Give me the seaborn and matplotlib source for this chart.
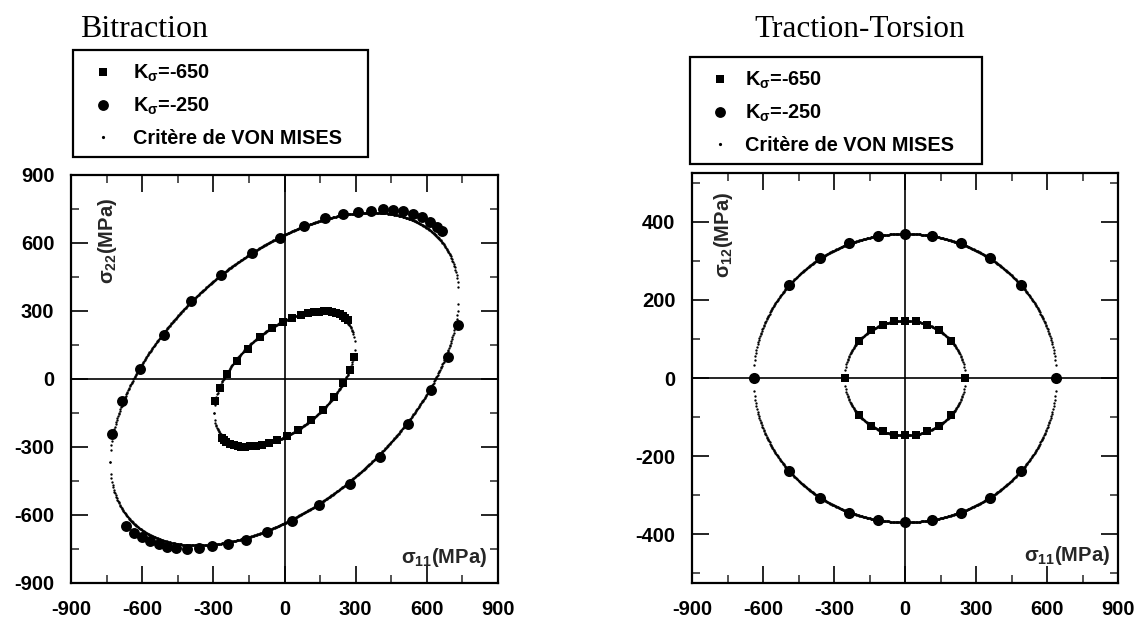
import numpy as np
import matplotlib
matplotlib.use("Agg")
import matplotlib.pyplot as plt
import seaborn as sns
from matplotlib.lines import Line2D
from matplotlib.patches import Rectangle
from matplotlib.ticker import MultipleLocator

# ---------------- data ----------------
# Bitraction, K_sigma = -650 (squares)
bi_sq_x = [-292, -274, -243, -202, -154, -103, -54, -8, 30, 68,
           98, 124, 146, 167, 184, 200, 216, 232, 246, 257, 266,
           294, 277, 248, 208, 161, 111, 57, 12,
           -31, -66, -96, -122, -144, -166, -183, -198, -214, -230, -245, -255, -265]
bi_sq_y = [-98, -39, 20, 79, 134, 184, 224, 252, 270, 284,
           290, 295, 297, 299, 298, 296, 292, 286, 277, 268, 261,
           96, 40, -19, -79, -137, -183, -223, -251,
           -270, -284, -290, -295, -297, -299, -298, -296, -292, -286, -277, -268, -261]
# Bitraction, K_sigma = -250 (circles)
bi_ci_x = [-727, -685, -608, -510, -393, -268, -137, -21, 83, 171,
           246, 309, 365, 417, 459, 501, 541, 579, 614, 642, 666,
           733, 691, 617, 520, 403, 277, 146, 31, -72, -162,
           -240, -305, -360, -413, -458, -497, -530, -565, -600, -633, -668]
bi_ci_y = [-242, -98, 45, 196, 342, 460, 555, 623, 673, 709,
           726, 737, 743, 748, 746, 740, 729, 714, 692, 670, 652,
           239, 99, -48, -198, -342, -462, -558, -627, -676, -710,
           -726, -738, -744, -748, -747, -740, -728, -715, -697, -678, -650]
# Traction-Torsion, K_sigma = -650 (squares)
tt_sq_x = [-255, -196, -143, -94, -47, 0, 47, 94, 143, 196, 255,
           196, 143, 94, 47, 0, -47, -94, -143, -196]
tt_sq_y = [0, 94, 122, 137, 145, 147, 145, 137, 122, 94, 0,
           -94, -122, -137, -145, -147, -145, -137, -122, -94]
# Traction-Torsion, K_sigma = -250 (circles)
tt_ci_x = [-640, -490, -358, -236, -116, 0, 116, 236, 358, 490, 640,
           490, 358, 236, 116, 0, -116, -236, -358, -490]
tt_ci_y = [0, 237, 307, 345, 364, 370, 364, 345, 307, 237, 0,
           -237, -307, -345, -364, -370, -364, -345, -307, -237]
vm_bi_k = [257, 636]
vm_tt_k = [255, 640]

legend_labels = [r"K$_{\mathregular{\sigma}}$=-650", r"K$_{\mathregular{\sigma}}$=-250",
                 "Critère de VON MISES"]
titles = ["Bitraction", "Traction-Torsion"]
bi_ticks = [-900, -600, -300, 0, 300, 600, 900]
tt_xticks = [-900, -600, -300, 0, 300, 600, 900]
tt_yticks = [-400, -200, 0, 200, 400]

# ---------------- style ----------------
sns.set_theme(style="white")
plt.rcParams["font.family"] = ["Liberation Sans", "DejaVu Sans"]
plt.rcParams["mathtext.fontset"] = "custom"
plt.rcParams["mathtext.rm"] = "Liberation Sans:bold"
plt.rcParams["mathtext.it"] = "Liberation Sans:bold"
plt.rcParams["mathtext.bf"] = "Liberation Sans:bold"
plt.rcParams["mathtext.default"] = "regular"

W, H = 1136, 620
fig = plt.figure(figsize=(W / 100, H / 100), dpi=100)
fig.patch.set_facecolor("white")

axL = fig.add_axes([71 / W, 1 - 583 / H, 427 / W, 408 / H])
axR = fig.add_axes([692 / W, 1 - 583 / H, 426 / W, 410 / H])


def vm_biaxial(k, step=2.5):
    xm = 2 * k / np.sqrt(3)
    s1 = np.arange(-xm, xm + 1e-9, step)
    r = np.sqrt(np.clip(4 * k ** 2 - 3 * s1 ** 2, 0, None))
    return np.concatenate([s1, s1]), np.concatenate([(s1 + r) / 2, (s1 - r) / 2])


def vm_tt(k, step=2.5):
    s1 = np.arange(-k, k + 1e-9, step)
    r = np.sqrt(np.clip((k ** 2 - s1 ** 2) / 3, 0, None))
    return np.concatenate([s1, s1]), np.concatenate([r, -r])


def style_axes(ax, xlim, ylim, xmin, ymin, xticks, yticks):
    ax.set_xlim(*xlim)
    ax.set_ylim(*ylim)
    ax.axhline(0, color="black", lw=1.2, zorder=1)
    ax.axvline(0, color="black", lw=1.2, zorder=1)
    ax.set_xticks(xticks)
    ax.set_yticks(yticks)
    ax.xaxis.set_minor_locator(MultipleLocator(xmin))
    ax.yaxis.set_minor_locator(MultipleLocator(ymin))
    ax.set_xticklabels([str(t) for t in xticks], fontweight="bold")
    ax.set_yticklabels([str(t) for t in yticks], fontweight="bold")
    ax.tick_params(which="major", direction="in", length=12, width=1.2,
                   top=True, right=True, bottom=True, left=True,
                   labelsize=14.5, colors="black")
    ax.tick_params(which="minor", direction="in", length=6, width=1.1,
                   top=True, right=True, bottom=True, left=True)
    ax.tick_params(axis="x", which="major", pad=12.5)
    ax.tick_params(axis="y", which="major", pad=12)
    for sp in ax.spines.values():
        sp.set_visible(True)
        sp.set_color("black")
        sp.set_linewidth(1.6)
    ax.set_xlabel("")
    ax.set_ylabel("")
    ax.grid(False)


# ---------------- left panel ----------------
for k in vm_bi_k:
    cx, cy = vm_biaxial(k)
    axL.plot(cx, cy, ls="none", marker="o", ms=1.7, mew=0, color="black", zorder=2)
sns.scatterplot(x=bi_sq_x, y=bi_sq_y, marker="s", s=34, color="black",
                edgecolor="black", linewidth=0, ax=axL, zorder=3, legend=False)
sns.scatterplot(x=bi_ci_x, y=bi_ci_y, marker="o", s=62, color="black",
                edgecolor="black", linewidth=0, ax=axL, zorder=3, legend=False)
style_axes(axL, (-900, 900), (-900, 900), 150, 150, bi_ticks, bi_ticks)
axL.text(-747, 611, r"$\sigma_{22}$(MPa)", rotation=90, ha="center", va="center",
         fontsize=14.5, fontweight="bold")
axL.text(852, -787, r"$\sigma_{11}$(MPa)", ha="right", va="center",
         fontsize=14.5, fontweight="bold")

# ---------------- right panel ----------------
for k in vm_tt_k:
    cx, cy = vm_tt(k)
    axR.plot(cx, cy, ls="none", marker="o", ms=1.7, mew=0, color="black", zorder=2)
sns.scatterplot(x=tt_sq_x, y=tt_sq_y, marker="s", s=36, color="black",
                edgecolor="black", linewidth=0, ax=axR, zorder=3, legend=False)
sns.scatterplot(x=tt_ci_x, y=tt_ci_y, marker="o", s=64, color="black",
                edgecolor="black", linewidth=0, ax=axR, zorder=3, legend=False)
style_axes(axR, (-900, 900), (-525, 525), 150, 100, tt_xticks, tt_yticks)
axR.text(-765, 367, r"$\sigma_{12}$(MPa)", rotation=90, ha="center", va="center",
         fontsize=14.5, fontweight="bold")
axR.text(868, -454, r"$\sigma_{11}$(MPa)", ha="right", va="center",
         fontsize=14.5, fontweight="bold")

# ---------------- legends (frame + entries, figure pixel coords) ----------------
def fx(px):
    return px / W


def fy(py):
    return 1 - py / H


marker_styles = [dict(marker="s", ms=6.2), dict(marker="o", ms=7.8), dict(marker="o", ms=2.3)]
legend_geo = [  # box_left, box_top, box_right, box_bottom, marker_x, text_x, row_ys
    (72.5, 50, 368, 157, 103, 133, (72, 105, 137)),
    (690, 57, 982, 164, 720, 745, (79, 112, 144)),
]
for (bl, bt, br, bb, mx, tx, rows) in legend_geo:
    fig.add_artist(Rectangle((fx(bl), fy(bb)), fx(br) - fx(bl), fy(bt) - fy(bb),
                             transform=fig.transFigure, fill=False,
                             edgecolor="black", linewidth=1.6))
    for lab, st, ry in zip(legend_labels, marker_styles, rows):
        fig.add_artist(Line2D([fx(mx)], [fy(ry)], transform=fig.transFigure,
                              ls="none", color="black", mew=0, **st))
        fig.text(fx(tx), fy(ry + 7), lab, ha="left", va="baseline",
                 fontsize=14.3, fontweight="bold", color="black")

# ---------------- titles ----------------
fig.text(fx(80), fy(36.7), titles[0], family="Liberation Serif", fontsize=23,
         ha="left", va="baseline", color="black")
fig.text(fx(754), fy(36.7), titles[1], family="Liberation Serif", fontsize=22.5,
         ha="left", va="baseline", color="black")

fig.savefig("out.png", dpi=100, facecolor="white")
